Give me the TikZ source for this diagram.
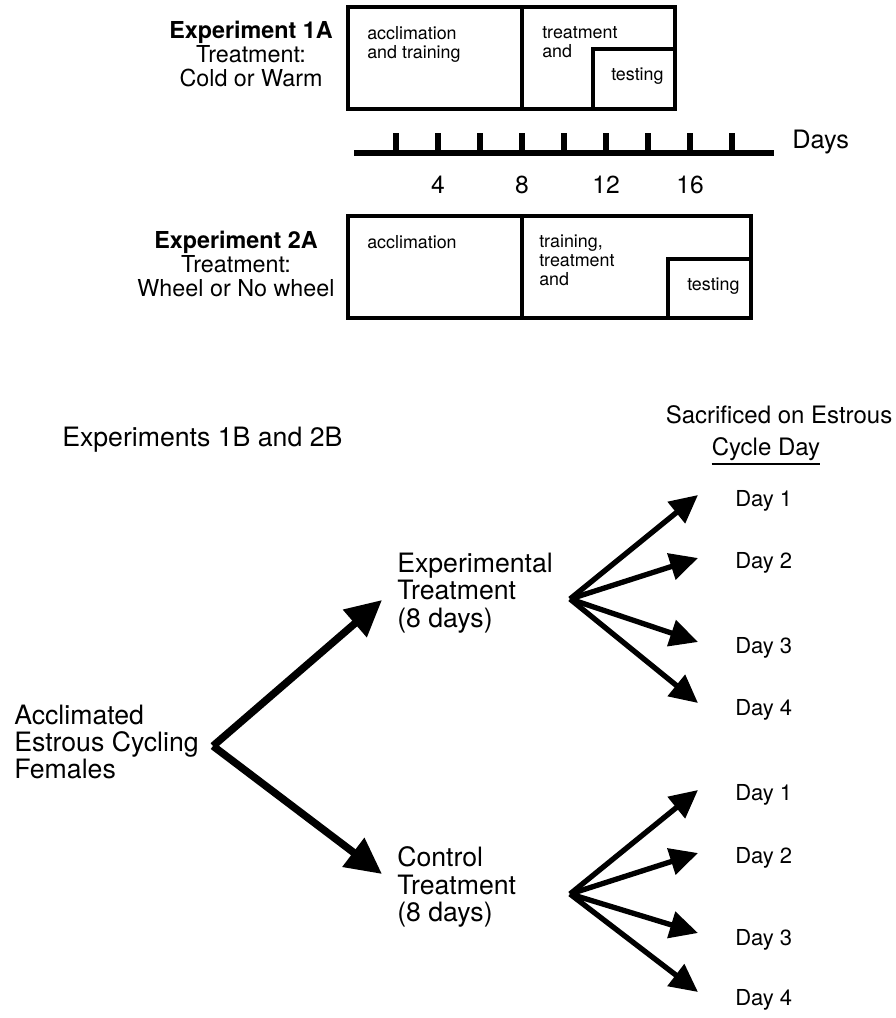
\documentclass[tikz,border=0pt]{standalone}
\usepackage{fontspec}
\setmainfont{TeX Gyre Heros}
\usetikzlibrary{arrows.meta}

\tikzset{
  phasebox/.style={draw=black, line width=2.6pt, fill=white},
  divider/.style={line width=3.4pt},
  phasetext/.style={anchor=north west, inner sep=0pt, align=left,
    font=\fontsize{13.4}{14.2}\selectfont},
  grouplabel/.style={anchor=north, inner sep=0pt, align=center,
    font=\fontsize{17.5}{18}\selectfont},
  ticklabel/.style={inner sep=0pt, font=\fontsize{18.5}{19}\selectfont},
  bigtext/.style={anchor=west, inner sep=0pt, align=left,
    font=\fontsize{20}{20.6}\selectfont},
  daytext/.style={anchor=west, inner sep=0pt, font=\fontsize{16.5}{16.5}\selectfont},
  mainarrow/.style={line width=5.6pt, -{Triangle[length=27pt,width=26pt]}},
  fanarrow/.style={line width=4pt, -{Triangle[length=21pt,width=20pt]}},
}

\begin{document}
\begin{tikzpicture}[x=0.75pt,y=-0.75pt]
  \useasboundingbox (0,0) rectangle (896,1018);

  % experiment 1A schedule
  \node[grouplabel] (exp1a) at (251,21) {\textbf{Experiment 1A}\\Treatment:\\Cold or Warm};
  \draw[phasebox] (348,7) rectangle (675,109);
  \draw[phasebox] (593,49) rectangle (675,109);
  \draw[divider] (522,7) -- (522,109);
  \node[phasetext] (acc1) at (367,26) {acclimation\\and training};
  \node[phasetext] (trt1) at (542,26) {treatment\\and};
  \node[phasetext] (tst1) at (611,68) {testing};

  % day axis
  \draw[line width=4.5pt] (354,153) -- (774,153);
  \foreach \d in {2,4,...,18}
    \fill (354+21*\d-3,133) rectangle (354+21*\d+3,153);
  \foreach \d in {4,8,12,16}
    \node[ticklabel] (tick\d) at (354+21*\d,185) {\d};
  \node[ticklabel, anchor=west, font=\fontsize{19}{19}\selectfont] (days) at (792,142) {Days};

  % experiment 2A schedule
  \node[grouplabel] (exp2a) at (236,231) {\textbf{Experiment 2A}\\Treatment:\\Wheel or No wheel};
  \draw[phasebox] (348,216) rectangle (751,318);
  \draw[phasebox] (668,259) rectangle (751,318);
  \draw[divider] (522,216) -- (522,318);
  \node[phasetext] (acc2) at (367,235) {acclimation};
  \node[phasetext] (trt2) at (539,235) {training,\\treatment\\and};
  \node[phasetext] (tst2) at (687,278) {testing};

  % experiments 1B and 2B
  \node[bigtext] (exp12b) at (62,440) {Experiments 1B and 2B};
  \node[inner sep=0pt, font=\fontsize{18}{19}\selectfont] (sacr) at (779,415) {Sacrificed on Estrous};
  \node[inner sep=0pt, font=\fontsize{18}{19}\selectfont] (cycle) at (766,449) {Cycle Day};
  \draw[line width=1.5pt] ([yshift=-2pt]cycle.south west) -- ([yshift=-2pt]cycle.south east);

  \node[bigtext] (accl) at (14,742) {Acclimated\\Estrous Cycling\\Females};
  \node[bigtext] (expt) at (397,593) {Experimental\\Treatment\\(8 days)};
  \node[bigtext] (ctrl) at (397,887) {Control\\Treatment\\(8 days)};

  \coordinate (split) at (213,746);
  \coordinate (expttip) at (382,600);
  \coordinate (ctrltip) at (382,874);
  \draw[mainarrow] (split) -- (expttip);
  \draw[mainarrow] (split) -- (ctrltip);

  % sacrifice days
  \coordinate (fanE) at (570,599);
  \coordinate (fanC) at (570,894);
  \foreach \i/\tip/\lab in {1/495/501, 2/558/563, 3/642/648, 4/703/710} {
    \coordinate (e\i) at (698,\tip);
    \draw[fanarrow] (fanE) -- (e\i);
    \node[daytext] (eday\i) at (735,\lab) {Day \i};
  }
  \foreach \i/\tip/\lab in {1/790/795, 2/853/858, 3/933/940, 4/992/1000} {
    \coordinate (c\i) at (698,\tip);
    \draw[fanarrow] (fanC) -- (c\i);
    \node[daytext] (cday\i) at (735,\lab) {Day \i};
  }
\end{tikzpicture}
\end{document}
